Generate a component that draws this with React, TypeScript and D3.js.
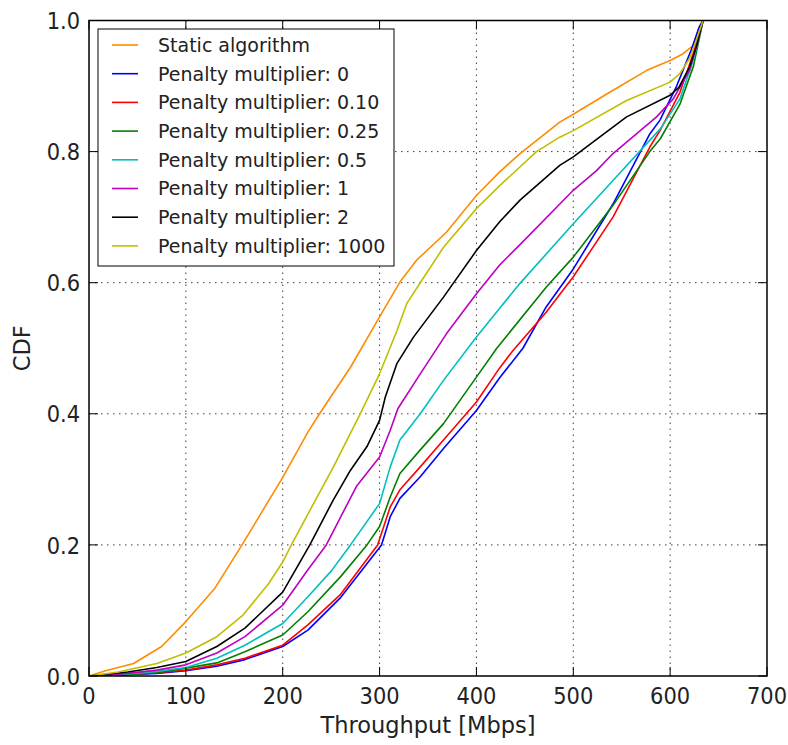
import React from "react";
import * as d3 from "d3";

const labels = [
  "Static algorithm",
  "Penalty multiplier: 0",
  "Penalty multiplier: 0.10",
  "Penalty multiplier: 0.25",
  "Penalty multiplier: 0.5",
  "Penalty multiplier: 1",
  "Penalty multiplier: 2",
  "Penalty multiplier: 1000",
];
const colors = ["#ff8c00", "#0000ff", "#ff0000", "#008000", "#00bfbf", "#bf00bf", "#000000", "#bfbf00"];

const staticAlg: [number, number][] = [[0,0],[17,0.008],[46,0.019],[75,0.045],[100,0.083],[130,0.134],[158,0.2],[200,0.303],[226,0.372],[238,0.4],[270,0.471],[300,0.548],[321,0.601],[338,0.634],[369,0.677],[400,0.733],[424,0.769],[445,0.797],[486,0.845],[500,0.857],[538,0.891],[576,0.924],[600,0.939],[613,0.949],[624,0.962],[630,0.99],[633.5,1]];
const pm0: [number, number][] = [[0,0],[40,0.002],[70,0.004],[100,0.008],[132,0.015],[161,0.025],[200,0.045],[226,0.07],[260,0.12],[302,0.2],[311,0.243],[321,0.271],[342,0.304],[366,0.347],[400,0.405],[424,0.455],[448,0.5],[472,0.563],[500,0.621],[541,0.72],[579,0.827],[589.5,0.848],[606.7,0.9],[621.5,0.954],[630,0.99],[634,1]];
const pm010: [number, number][] = [[0,0],[40,0.002],[70,0.005],[100,0.009],[132,0.017],[161,0.027],[200,0.047],[226,0.078],[260,0.125],[298,0.2],[311,0.258],[321,0.284],[342,0.319],[366,0.36],[400,0.418],[424,0.47],[438,0.497],[472,0.555],[500,0.609],[541,0.7],[579,0.807],[589.5,0.832],[610,0.89],[624,0.95],[634,1]];
const pm025: [number, number][] = [[0,0],[40,0.002],[70,0.005],[100,0.012],[132,0.02],[161,0.037],[200,0.0625],[226,0.098],[260,0.152],[287,0.2],[300,0.228],[311,0.273],[321,0.309],[342,0.345],[366,0.385],[400,0.456],[421,0.5],[472,0.593],[500,0.639],[541,0.718],[579,0.8],[590,0.82],[610,0.872],[624,0.93],[634,1]];
const pm05: [number, number][] = [[0,0],[40,0.003],[70,0.007],[100,0.013],[132,0.027],[161,0.047],[200,0.08],[226,0.121],[250,0.16],[270,0.2],[300,0.263],[311,0.319],[321,0.36],[342,0.4],[366,0.451],[400,0.517],[424,0.561],[445,0.599],[500,0.69],[541,0.756],[590,0.835],[610,0.88],[624,0.94],[634,1]];
const pm1: [number, number][] = [[0,0],[40,0.004],[70,0.009],[100,0.017],[132,0.035],[161,0.06],[200,0.108],[226,0.162],[245,0.2],[276,0.289],[300,0.334],[311,0.375],[319,0.408],[342,0.461],[369,0.522],[400,0.583],[424,0.627],[445,0.658],[500,0.741],[524,0.771],[541,0.797],[586,0.853],[603,0.88],[620,0.924],[627,0.96],[634,1]];
const pm2: [number, number][] = [[0,0],[40,0.006],[70,0.013],[100,0.022],[132,0.045],[161,0.073],[200,0.128],[228,0.2],[252,0.268],[270,0.314],[287,0.35],[300,0.39],[306,0.426],[318,0.477],[335,0.517],[366,0.578],[400,0.649],[424,0.693],[445,0.726],[486,0.779],[500,0.792],[555,0.853],[600,0.886],[609,0.898],[620,0.929],[627,0.96],[634,1]];
const pm1000: [number, number][] = [[0,0],[30,0.006],[70,0.019],[100,0.035],[132,0.06],[159,0.093],[185,0.14],[200,0.174],[209,0.2],[226,0.247],[252,0.318],[280,0.4],[300,0.461],[318,0.527],[328,0.568],[342,0.6],[366,0.654],[400,0.713],[424,0.748],[462,0.8],[486,0.822],[500,0.832],[555,0.878],[600,0.906],[610,0.919],[620,0.942],[627,0.97],[634,1]];

const seriesData = [staticAlg, pm0, pm010, pm025, pm05, pm1, pm2, pm1000];

const xTicks = [0, 100, 200, 300, 400, 500, 600, 700];
const yTicks = [0, 0.2, 0.4, 0.6, 0.8, 1.0];

const W = 788, H = 745;
const L = 89, R = 767, T = 20.5, B = 676;

export default function App() {
  const x = d3.scaleLinear().domain([0, 700]).range([L, R]);
  const y = d3.scaleLinear().domain([0, 1]).range([B, T]);
  const line = d3.line<[number, number]>().x(d => x(d[0])).y(d => y(d[1]));
  const font = "DejaVu Sans, sans-serif";
  const tickLen = 9;
  const sy = 1.13;
  return (
    <svg width={W} height={H} style={{ position: "absolute", left: 0, top: 0, background: "#fff" }} fontFamily={font}>
      <defs>
        <clipPath id="plotclip">
          <rect x={L} y={T} width={R - L} height={B - T} />
        </clipPath>
      </defs>
      <rect x={0} y={0} width={W} height={H} fill="#fff" />
      {/* grid */}
      <g stroke="#000" strokeWidth={1} strokeDasharray="1.5,4.5" opacity={0.75}>
        {xTicks.slice(1, -1).map(t => (
          <line key={"gx" + t} x1={x(t)} x2={x(t)} y1={T} y2={B} />
        ))}
        {yTicks.slice(1, -1).map(t => (
          <line key={"gy" + t} x1={L} x2={R} y1={y(t)} y2={y(t)} />
        ))}
      </g>
      {/* series */}
      <g clipPath="url(#plotclip)" fill="none" strokeWidth={1.6} strokeLinejoin="round">
        {seriesData.map((s, i) => (
          <path key={i} d={line(s) || ""} stroke={colors[i]} />
        ))}
      </g>
      {/* ticks */}
      <g stroke="#000" strokeWidth={1}>
        {xTicks.map(t => (
          <g key={"tx" + t}>
            <line x1={x(t)} x2={x(t)} y1={B} y2={B - tickLen} />
            <line x1={x(t)} x2={x(t)} y1={T} y2={T + tickLen} />
          </g>
        ))}
        {yTicks.map(t => (
          <g key={"ty" + t}>
            <line x1={L} x2={L + tickLen} y1={y(t)} y2={y(t)} />
            <line x1={R} x2={R - tickLen} y1={y(t)} y2={y(t)} />
          </g>
        ))}
      </g>
      {/* frame */}
      <rect x={L} y={T} width={R - L} height={B - T} fill="none" stroke="#000" strokeWidth={1.5} />
      {/* tick labels */}
      <g fontSize={21} fill="#222">
        {xTicks.map(t => (
          <text key={"lx" + t} transform={`translate(${x(t)},704) scale(1,${sy})`} textAnchor="middle">{String(t)}</text>
        ))}
        {yTicks.map(t => (
          <text key={"ly" + t} transform={`translate(80,${y(t) + 8.6}) scale(1,${sy})`} textAnchor="end">{t.toFixed(1)}</text>
        ))}
      </g>
      <text transform={`translate(${(L + R) / 2},733) scale(1,1.05)`} textAnchor="middle" fontSize={22.5} fill="#222">Throughput [Mbps]</text>
      <text transform={`translate(30,${(T + B) / 2}) rotate(-90) scale(1,1.05)`} textAnchor="middle" fontSize={22.5} fill="#222">CDF</text>
      {/* legend */}
      <g>
        <rect x={98} y={29} width={296} height={237} fill="#fff" stroke="#000" strokeWidth={1} />
        {labels.map((lab, i) => {
          const cy = 45 + i * 28.7;
          return (
            <g key={"lg" + i}>
              <line x1={112} x2={138} y1={cy} y2={cy} stroke={colors[i]} strokeWidth={1.6} />
              <text x={158} y={cy + 6.8} fontSize={19} fill="#222">{lab}</text>
            </g>
          );
        })}
      </g>
    </svg>
  );
}
